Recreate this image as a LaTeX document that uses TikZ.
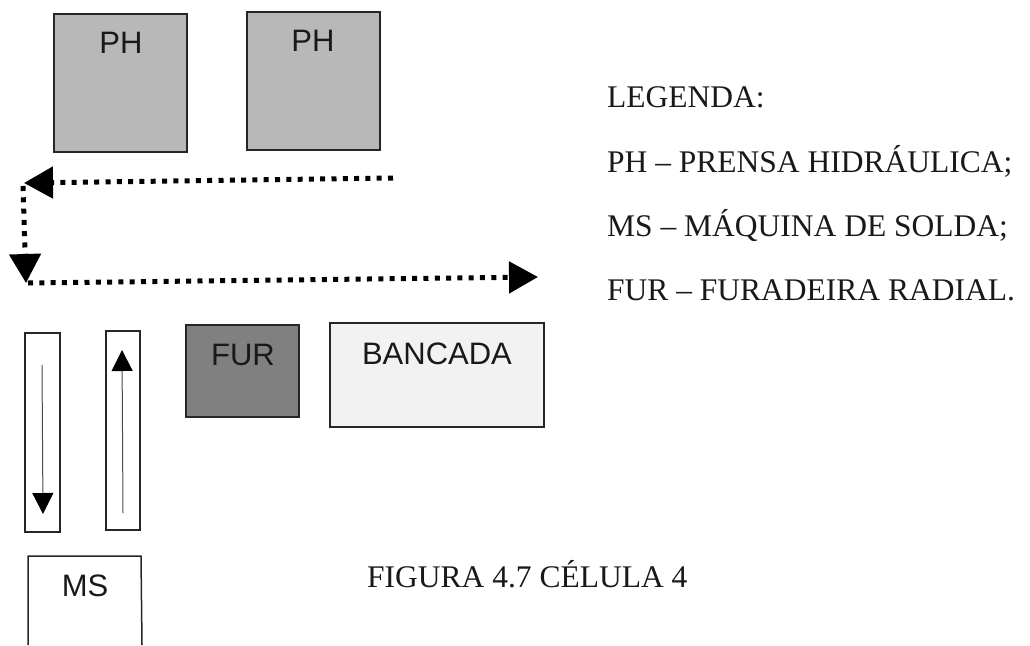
\documentclass[tikz,border=0pt]{standalone}
\usepackage{fontspec}
\setmainfont{Liberation Serif}
\newfontfamily\labelfont{Liberation Sans}
\usetikzlibrary{arrows.meta}
\tikzset{
  x=1pt,y=-1pt,
  machine/.style={draw=black!85,line width=1.5pt},
  boxlabel/.style={font=\labelfont\fontsize{31}{36}\selectfont,text=black!90,inner sep=0pt,anchor=center},
  legendtext/.style={font=\fontsize{31.5}{36}\selectfont,text=black!90,inner sep=0pt,anchor=west},
  flow/.style={line width=5pt,dash pattern=on 5pt off 6.3pt,black,-{Triangle[length=29pt,width=31pt]}},
  thinflow/.style={line width=1pt,black!70,-{Triangle[length=21pt,width=21pt,color=black]}}
}
\definecolor{phgray}{gray}{0.72}
\definecolor{furgray}{gray}{0.50}
\definecolor{bancgray}{gray}{0.95}
\newcommand{\machinebox}[6]{% name, x1,y1,x2,y2, fill
  \path[machine,fill=#6] (#2,#3) rectangle (#4,#5);
  \coordinate (#1) at ({(#2+#4)/2},{(#3+#5)/2});
}
\begin{document}
\begin{tikzpicture}
\useasboundingbox (0,0) rectangle (1030,645);
\machinebox{ph1}{54}{14}{187}{152}{phgray}
\machinebox{ph2}{247}{12}{380}{150}{phgray}
\machinebox{strip1}{25}{333}{60}{532}{white}
\machinebox{strip2}{106}{331}{140}{530}{white}
\machinebox{fur}{186}{325}{299}{417}{furgray}
\machinebox{banc}{330}{323}{544}{427}{bancgray}
\draw[machine] (28,645) -- (28,556) -- (141,556) -- (142,645);

\node[boxlabel] (lph1) at (121,43) {PH};
\node[boxlabel] (lph2) at (313,41) {PH};
\node[boxlabel] (lfur) at (243,355) {FUR};
\node[boxlabel] (lbanc) at (437,354) {BANCADA};
\node[boxlabel] (lms) at (85,586) {MS};

\coordinate (a0) at (393,178);
\coordinate (a1) at (24,183);
\coordinate (b0) at (23,186);
\coordinate (b1) at (26,283);
\coordinate (c0) at (28,283);
\coordinate (c1) at (538,277);
\draw[flow] (a0) -- (a1);
\draw[flow] (b0) -- (b1);
\draw[flow] (c0) -- (c1);

\coordinate (d0) at (42,365);
\coordinate (d1) at (43,514);
\coordinate (e0) at (123,513);
\coordinate (e1) at (122,350);
\draw[thinflow] (d0) -- (d1);
\draw[thinflow] (e0) -- (e1);

\node[legendtext] (l1) at (607,97) {LEGENDA:};
\node[legendtext] (l2) at (607,161) {PH -- PRENSA HIDRÁULICA;};
\node[legendtext] (l3) at (607,226) {MS -- MÁQUINA DE SOLDA;};
\node[legendtext] (l4) at (607,290) {FUR -- FURADEIRA RADIAL.};
\node[legendtext] (cap) at (367,574) {FIGURA 4.7 CÉLULA 4};
\end{tikzpicture}
\end{document}
